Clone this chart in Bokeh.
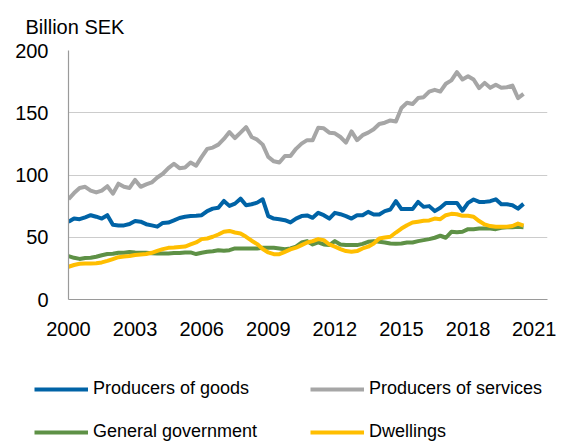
from bokeh.plotting import figure
from bokeh.models import Range1d, FixedTicker, Legend, LegendItem
from bokeh.layouts import column
from bokeh.embed import file_html
from bokeh.resources import INLINE

# Quarterly data, 2000Q1 - 2020Q3, billion SEK
start_year = 2000
goods = [62.4, 65, 64.5, 66, 67.7, 66.5, 65, 67.7, 60, 59.5, 59.5, 60.6, 63, 62.5, 60.5, 59.5,
         58.5, 61.5, 61.8, 63.5, 65.5, 66.5, 67, 67.3, 67.7, 71, 73, 73.7, 79.2, 75.2, 77, 81,
         75.7, 76.5, 77.8, 80.5, 67, 65, 64.5, 63.7, 61.9, 65, 67, 67.5, 65.6, 69.6, 67.7, 65,
         69.6, 68.5, 67, 65, 67.7, 67.7, 70.4, 68.3, 68.3, 71, 72.3, 79, 72.6, 72.6, 72.6, 78.4,
         74.4, 75, 71, 73.7, 77.6, 77.6, 77.6, 71.3, 77.6, 80.3, 78.4, 78.4, 79, 80.5, 76.5, 76.5,
         75.7, 73, 76.8]
services = [80.5, 85.5, 89.6, 90.5, 87.5, 86, 87.5, 91, 85, 93, 90.5, 89.6, 96, 90.5, 92.5, 94,
            98, 101, 105.5, 109, 105.5, 106, 110, 107.5, 114.5, 121, 122, 124.4, 129, 134.5, 129.7, 134,
            138.5, 130.5, 128.4, 124.4, 114.5, 111, 110, 115.3, 115.3, 121, 125.2, 128, 128, 138, 137.5, 134,
            133.5, 130.5, 126, 135, 128, 132, 134, 136.8, 141, 142, 143.8, 143, 153.8, 158, 157, 161.8,
            162.5, 167, 168.4, 167, 173.3, 176, 182.6, 176.7, 179.3, 176.7, 169.8, 174, 170, 172.4, 170, 170.5,
            171.8, 161.8, 165.2]
government = [34.9, 33.5, 32.6, 33.3, 33.5, 34.3, 35.5, 36.5, 36.7, 37.5, 37.6, 38.2, 37.8, 37.6, 37.5, 37.2,
              37, 37, 37, 37.3, 37.3, 37.8, 37.8, 36.5, 37.6, 38.3, 38.8, 39.6, 39.2, 39.6, 41, 41,
              41, 41, 41, 41.5, 41.6, 41.6, 41, 40.4, 41, 42.4, 45.8, 46.9, 44.2, 45.8, 44.2, 43.7,
              46.9, 44.2, 43.7, 43.7, 43.7, 44.7, 46.3, 46.9, 46.3, 45.8, 45, 44.7, 45, 45.8, 45.8, 46.9,
              47.7, 48.5, 49.6, 51.2, 49.6, 54.4, 54, 54.4, 56.5, 56.5, 57, 57, 57, 56.5, 57.6, 58.1,
              58.1, 58.4, 58.1]
dwellings = [26.3, 27.7, 28.7, 29, 29, 29.2, 29.8, 31, 32.5, 34, 34.5, 34.9, 35.8, 36.2, 36.5, 37.5,
             39, 40.5, 41.5, 41.8, 42.2, 42.5, 44.2, 45.8, 48.5, 49, 50.4, 52.2, 54.4, 55.1, 53.8, 53,
             50.4, 47.2, 44.5, 40.5, 37.8, 36.4, 36.4, 38.3, 40.2, 41.6, 43.7, 45.8, 46.9, 48.5, 47.7, 44.2,
             42.4, 40.5, 38.9, 38.3, 38.9, 41, 42.4, 45, 49, 49.8, 50.4, 53.8, 57, 59.7, 61.9, 62.5,
             63.2, 63.5, 65, 64.5, 67.7, 68.8, 68.5, 67.2, 67.2, 66.5, 63, 60.3, 59, 58.4, 58.4, 58.4,
             59, 61, 59.3]
year_ticks = [2000, 2003, 2006, 2009, 2012, 2015, 2018, 2021]
value_ticks = [0, 50, 100, 150, 200]
series_names = ["Producers of goods", "Producers of services", "General government", "Dwellings"]
unit_label = "Billion SEK"

x = [start_year + k / 4 for k in range(len(goods))]
series = [goods, services, government, dwellings]

FONT = "Liberation Sans"
W = 556

p = figure(width=W, height=360, output_backend="svg", toolbar_location=None,
           x_range=Range1d(2000, 2021.58), y_range=Range1d(0, 200),
           min_border_left=68, min_border_right=W - 68 - 479, min_border_top=49, min_border_bottom=61)
p.frame_align = False
p.outline_line_color = None
p.background_fill_color = "white"
p.border_fill_color = "white"
p.xgrid.grid_line_color = None
p.ygrid.grid_line_color = "#cccccc"
p.ygrid.grid_line_width = 1.2
p.ygrid.ticker = FixedTicker(ticks=value_ticks)

p.title.text = unit_label
p.title.align = "left"
p.title.offset = -43
p.title.standoff = 26
p.title.text_font = FONT
p.title.text_font_size = "20px"
p.title.text_font_style = "normal"
p.title.text_color = "black"

p.xaxis.ticker = FixedTicker(ticks=year_ticks)
p.yaxis.ticker = FixedTicker(ticks=value_ticks)
for ax in (p.xaxis, p.yaxis):
    ax.axis_line_color = "#9a9a9a"
    ax.axis_line_width = 1.2
    ax.major_tick_line_color = None
    ax.minor_tick_line_color = None
    ax.major_tick_out = 0
    ax.major_tick_in = 0
    ax.major_label_text_font = FONT
    ax.major_label_text_font_size = "20px"
    ax.major_label_text_color = "black"
p.xaxis.major_label_standoff = 22
p.yaxis.major_label_standoff = 20

colors = ["#0063A6", "#A6A6A6", "#5E9146", "#FFBE00"]
draw_order = [1, 0, 2, 3]
for i in draw_order:
    p.line(x, series[i], line_color=colors[i], line_width=4, line_join="round")

# Legend strip below the chart (its lines fall outside this strip's x range, only the legend shows)
p2 = figure(width=W, height=82, output_backend="svg", toolbar_location=None,
            x_axis_location=None, y_axis_location=None, min_border=0,
            x_range=Range1d(0, 1), y_range=Range1d(0, 200))
p2.frame_align = False
p2.outline_line_color = None
p2.grid.grid_line_color = None
p2.background_fill_color = "white"
p2.border_fill_color = "white"
proxies = [p2.line(x, series[i], line_color=colors[i], line_width=4) for i in range(4)]

legend = Legend(items=[LegendItem(label=series_names[i], renderers=[proxies[i]]) for i in range(4)],
                location=(34, 0), orientation="horizontal", ncols=2,
                glyph_width=54, glyph_height=20, label_height=20, label_width=195,
                label_standoff=5, spacing=22, padding=0, margin=0,
                border_line_alpha=0, background_fill_alpha=0,
                label_text_font=FONT, label_text_font_size="18px", label_text_color="black")
p2.add_layout(legend, "center")

layout = column(p, p2, spacing=0)
open("out.html", "w").write(file_html(layout, INLINE))
